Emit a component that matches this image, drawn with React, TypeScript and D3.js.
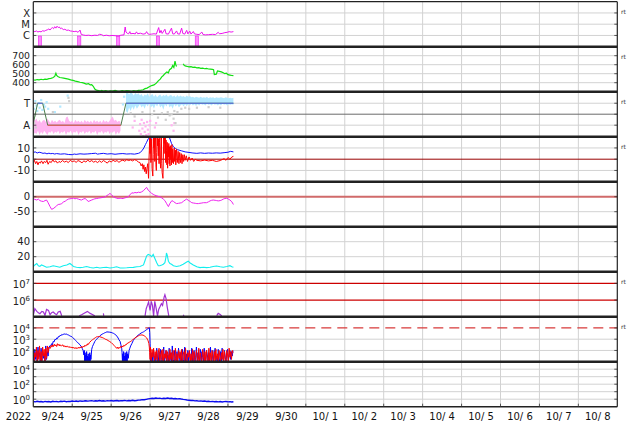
import React from "react";
import * as d3 from "d3";

type Pt = [number, number | null];
type Band = [number, number, number];

// ---------------- axis text ----------------
const yearLabel = "2022";
const dayLabels = ["9/24", "9/25", "9/26", "9/27", "9/28", "9/29", "9/30", "10/ 1", "10/ 2", "10/ 3", "10/ 4", "10/ 5", "10/ 6", "10/ 7", "10/ 8"];
const xrayTicks: [number, string][] = [[-4, "X"], [-5, "M"], [-6, "C"]];
const speedTicks = [700, 600, 500, 400];
const sectorTicks: [number, string][] = [[1, "T"], [-1, "A"]];
const imfTicks = [10, 0, -10];
const dstTicks = [0, -50];
const densTicks = [40, 20];
const elecTicks = [7, 6];
const protTicks = [4, 3, 2];
const lowTicks = [4, 2, 0];
const lowGrid = [4, 3, 2, 1, 0];
const rtPanels = [0, 1, 2, 3, 6, 7];

// ---------------- data (day offset from 9/24 00UT, value) ----------------
const xray: Pt[] = [[0.00,-5.62],[0.04,-5.66],[0.08,-5.60],[0.12,-5.70],[0.15,-5.64],[0.20,-5.68],[0.24,-5.58],[0.28,-5.62],[0.32,-5.55],[0.36,-5.50],[0.40,-5.42],[0.43,-5.52],[0.46,-5.38],[0.49,-5.30],[0.52,-5.40],[0.55,-5.22],[0.58,-5.35],[0.61,-5.18],[0.64,-5.30],[0.67,-5.25],[0.70,-5.40],[0.73,-5.35],[0.77,-5.48],[0.81,-5.45],[0.86,-5.55],[0.90,-5.52],[0.95,-5.60],[1.00,-5.62],[1.05,-5.66],[1.10,-5.62],[1.15,-5.72],[1.20,-5.52],[1.23,-5.90],[1.28,-5.96],[1.35,-6.0],[1.42,-5.98],[1.50,-6.02],[1.58,-5.98],[1.65,-6.00],[1.70,-5.90],[1.75,-5.92],[1.80,-6.02],[1.88,-5.98],[1.95,-6.03],[2.02,-6.0],[2.10,-6.02],[2.18,-6.05],[2.25,-5.98],[2.33,-5.95],[2.36,-5.25],[2.38,-5.70],[2.42,-5.82],[2.45,-5.85],[2.48,-5.66],[2.50,-5.85],[2.56,-5.82],[2.62,-5.86],[2.65,-5.68],[2.68,-5.85],[2.75,-5.80],[2.82,-5.88],[2.88,-5.84],[2.91,-5.66],[2.94,-5.85],[2.98,-5.90],[3.04,-5.88],[3.10,-5.85],[3.16,-5.88],[3.22,-5.30],[3.25,-5.78],[3.28,-5.55],[3.31,-5.82],[3.38,-5.45],[3.41,-5.85],[3.47,-5.88],[3.55,-5.35],[3.58,-5.85],[3.62,-5.88],[3.68,-5.60],[3.71,-5.86],[3.76,-5.88],[3.81,-5.35],[3.84,-5.82],[3.89,-5.88],[3.94,-5.55],[3.97,-5.86],[4.02,-5.62],[4.05,-5.88],[4.11,-5.65],[4.14,-5.86],[4.20,-5.90],[4.26,-5.92],[4.33,-5.70],[4.36,-5.92],[4.42,-5.95],[4.50,-5.93],[4.60,-5.90],[4.68,-5.92],[4.75,-5.72],[4.78,-5.85],[4.85,-5.82],[4.92,-5.75],[4.98,-5.72],[5.03,-5.66],[5.08,-5.70],[5.14,-5.66]];
const xrayDips = [0.17, 1.18, 2.18, 3.2, 4.2];

const speed: Pt[] = [[0,430],[0.05,428],[0.1,435],[0.15,432],[0.2,438],[0.25,433],[0.3,440],[0.35,438],[0.4,445],[0.45,448],[0.5,455],[0.55,470],[0.58,505],[0.6,480],[0.63,470],[0.68,458],[0.72,455],[0.78,450],[0.84,445],[0.9,440],[0.96,432],[1.02,425],[1.08,418],[1.14,412],[1.2,405],[1.26,400],[1.3,395],[1.36,385],[1.42,390],[1.46,375],[1.5,378],[1.54,360],[1.58,330],[1.62,318],[1.68,312],[1.72,308],[1.76,315],[1.8,306],[1.86,312],[1.92,305],[1.98,310],[2.04,306],[2.1,314],[2.16,308],[2.22,304],[2.28,311],[2.34,306],[2.4,313],[2.46,309],[2.52,305],[2.58,312],[2.64,308],[2.7,314],[2.76,316],[2.82,322],[2.87,334],[2.92,340],[2.98,355],[3.04,368],[3.1,375],[3.16,395],[3.21,420],[3.26,440],[3.3,465],[3.34,480],[3.38,500],[3.43,520],[3.47,510],[3.5,545],[3.55,560],[3.58,590],[3.61,570],[3.64,640],[3.66,600],[3.68,580],[3.7,null],[3.84,null],[3.85,610],[3.88,590],[3.92,585],[3.96,580],[4.0,575],[4.05,578],[4.1,570],[4.15,572],[4.2,565],[4.25,568],[4.3,560],[4.35,562],[4.4,555],[4.45,558],[4.5,552],[4.55,550],[4.6,548],[4.63,545],[4.65,490],[4.7,495],[4.73,530],[4.78,525],[4.83,520],[4.88,510],[4.92,500],[4.96,505],[5.0,490],[5.05,485],[5.1,480],[5.14,478]];

const sector: Pt[] = [[0,-0.85],[0.11,1],[0.24,1],[0.37,-1],[2.25,-1],[2.38,1],[5.14,1]];
const sectorAway: Pt[] = [[0.37,-1],[2.25,-1]];
const sectorToward: Pt[] = [[0.11,1],[0.24,1],[2.38,1],[5.14,1]];
const bandToward: Band[] = [[2.38,0.3,1.9],[2.42,0.1,2.0],[2.46,0.6,1.8],[2.5,0.3,2.0],[2.54,0.7,1.9],[2.58,0.4,1.7],[2.62,0.8,1.95],[2.66,0.5,1.8],[2.7,0.7,1.9],[2.74,0.9,1.7],[2.78,0.6,1.85],[2.82,0.8,1.6],[2.86,0.5,1.8],[2.9,0.9,1.7],[2.94,0.7,1.9],[2.98,1.0,1.6],[3.02,0.6,1.75],[3.06,0.8,1.85],[3.1,0.5,1.6],[3.14,0.9,1.8],[3.18,0.7,1.55],[3.22,1.0,1.7],[3.26,0.6,1.8],[3.3,0.8,1.6],[3.34,0.4,1.75],[3.38,0.9,1.65],[3.42,0.7,1.8],[3.46,1.0,1.6],[3.5,0.6,1.7],[3.54,0.8,1.75],[3.58,0.5,1.6],[3.62,0.9,1.7],[3.66,0.7,1.55],[3.7,0.9,1.75],[3.74,0.6,1.6],[3.78,0.8,1.7],[3.82,0.9,1.6],[3.86,0.7,1.65],[3.9,0.9,1.55],[3.94,0.75,1.7],[3.98,0.9,1.6],[4.02,0.8,1.65],[4.06,0.95,1.55],[4.1,0.8,1.6],[4.14,0.9,1.5],[4.18,0.75,1.6],[4.22,0.9,1.55],[4.26,0.8,1.5],[4.3,0.95,1.6],[4.34,0.85,1.5],[4.38,0.9,1.55],[4.42,0.8,1.5],[4.46,0.95,1.6],[4.5,0.85,1.45],[4.54,0.9,1.55],[4.58,0.8,1.5],[4.62,0.95,1.55],[4.66,0.85,1.45],[4.7,0.9,1.55],[4.74,0.8,1.5],[4.78,0.9,1.5],[4.82,0.8,1.55],[4.86,0.95,1.5],[4.9,0.85,1.45],[4.94,0.9,1.55],[4.98,0.8,1.5],[5.02,0.9,1.45],[5.06,0.85,1.5],[5.1,0.9,1.45],[5.14,0.85,1.5]];
const bandAway: Band[] = [[0.00,-1.9,-0.3],[0.04,-1.7,-0.6],[0.08,-1.8,-0.4],[0.12,-1.5,-0.7],[0.16,-1.9,-0.5],[0.2,-1.6,-0.8],[0.24,-1.8,-0.6],[0.28,-1.5,-0.5],[0.32,-1.7,-0.7],[0.36,-1.9,-0.4],[0.4,-1.6,-0.6],[0.44,-1.7,-0.8],[0.48,-1.5,-0.5],[0.52,-1.8,-0.7],[0.56,-1.6,-0.6],[0.6,-1.7,-0.75],[0.64,-1.5,-0.6],[0.68,-1.8,-0.5],[0.72,-1.6,-0.7],[0.76,-1.7,-0.6],[0.8,-1.5,-0.8],[0.84,-1.9,-0.3],[0.88,-1.6,-0.2],[0.92,-1.7,-0.6],[0.96,-1.5,-0.7],[1.0,-1.8,-0.6],[1.04,-1.6,-0.8],[1.08,-1.7,-0.5],[1.12,-1.5,-0.7],[1.16,-1.9,-0.6],[1.2,-1.6,-0.75],[1.24,-1.7,-0.6],[1.28,-1.5,-0.8],[1.32,-1.8,-0.5],[1.36,-1.6,-0.7],[1.4,-1.7,-0.6],[1.44,-1.5,-0.75],[1.48,-1.8,-0.6],[1.52,-1.6,-0.8],[1.56,-1.7,-0.5],[1.6,-1.5,-0.7],[1.64,-1.9,-0.6],[1.68,-1.6,-0.75],[1.72,-1.7,-0.6],[1.76,-1.5,-0.8],[1.8,-1.8,-0.5],[1.84,-1.6,-0.7],[1.88,-1.7,-0.6],[1.92,-1.5,-0.75],[1.96,-1.8,-0.6],[2.0,-1.6,-0.4],[2.04,-1.7,-0.2],[2.08,-1.5,-0.6],[2.12,-1.9,-0.5],[2.16,-1.6,-0.7],[2.2,-1.8,-0.6],[2.24,-1.5,-0.7]];
const towardDots: Pt[] = [[0.02,0.5],[0.05,1.2],[0.08,0.8],[0.1,0.3],[0.13,1.0],[0.16,0.6],[0.2,1.3],[0.23,0.4],[0.27,0.9],[0.3,0.7],[0.34,1.1],[0.38,0.5],[0.55,0.2],[0.69,0.7],[0.88,1.7],[2.3,0.9],[2.33,1.6]];
const awayDots: Pt[] = [[2.55,-1.2],[2.6,-0.6],[2.72,-1.5],[2.74,-0.9],[2.76,-1.8],[2.78,-0.5],[2.8,-1.3],[2.82,-2.0],[2.84,-0.8],[2.86,-1.6],[2.88,-1.1],[2.9,-1.9],[2.92,-0.7],[2.94,-1.4],[2.96,-1.8],[2.98,-1.0],[3.0,-0.6],[3.12,-1.2],[3.15,-0.8],[3.55,-1.0],[3.6,-1.5],[3.62,-0.8]];
const grayDots: Pt[] = [[0.0,-0.3],[0.02,-0.8],[0.04,-0.1],[0.06,-1.2],[0.5,0.2],[0.9,1.5],[0.92,1.2],[2.5,0.1],[2.6,-0.2],[2.8,0.2],[3.05,0.0],[3.1,0.3],[3.2,-0.3],[3.3,0.1],[3.4,-0.5],[3.45,0.2],[3.5,-0.1],[3.55,0.0],[3.6,-0.4],[3.62,0.3],[3.65,-0.8],[3.7,0.2],[3.8,0.5],[3.9,0.6],[4.0,0.5],[4.2,0.6],[4.5,0.65],[4.8,0.6]];

const bt: Pt[] = [[0,6],[0.05,6.5],[0.1,5.5],[0.15,6.2],[0.2,5.8],[0.25,5.2],[0.3,5.5],[0.35,4.8],[0.4,5.3],[0.45,4.9],[0.5,5.1],[0.55,4.6],[0.6,5.0],[0.7,4.5],[0.8,4.8],[0.9,4.2],[1.0,4.0],[1.05,4.6],[1.1,4.3],[1.2,4.8],[1.3,4.5],[1.4,4.7],[1.5,5.0],[1.6,5.3],[1.65,4.5],[1.7,4.8],[1.8,5.2],[1.9,4.6],[2.0,4.9],[2.1,4.4],[2.2,4.8],[2.3,5.0],[2.4,4.6],[2.5,4.8],[2.6,4.5],[2.7,5.2],[2.75,6],[2.8,8],[2.84,10],[2.88,13],[2.91,15],[2.95,18],[3.0,19.5],[3.05,18.5],[3.1,20.5],[3.2,21],[3.3,20.5],[3.4,21],[3.5,19],[3.55,14],[3.6,11],[3.65,9.5],[3.7,8.5],[3.8,7.5],[3.9,6.5],[4.0,6],[4.1,5.5],[4.2,5.2],[4.3,5.6],[4.4,5.2],[4.5,5.5],[4.6,5.3],[4.7,5.6],[4.8,5.4],[4.9,5.8],[5.0,6.2],[5.07,7],[5.14,6.5]];
const bz: Pt[] = [[0,-3],[0.03,-1],[0.06,-4],[0.09,-2],[0.12,-5],[0.15,-2.5],[0.18,-3.5],[0.21,-1.5],[0.25,-4],[0.28,-2],[0.32,-3],[0.35,-1],[0.38,-4.5],[0.42,-2],[0.46,-3],[0.5,-0.5],[0.54,-2.5],[0.58,-1.5],[0.62,-3.5],[0.66,-2],[0.7,-2.8],[0.75,-1.2],[0.8,-2.5],[0.85,-1.8],[0.9,-3],[0.95,-1],[1.0,-2.2],[1.05,-1.5],[1.1,-2.8],[1.15,-1.2],[1.2,-2],[1.25,-3.2],[1.3,-1.5],[1.35,-2.5],[1.4,-0.8],[1.45,-2.2],[1.5,-1.2],[1.55,-2.6],[1.6,-1.8],[1.65,-3],[1.7,-1.5],[1.75,-2.8],[1.8,-1.2],[1.85,-2.2],[1.9,-3.5],[1.95,-1.5],[2.0,-2.5],[2.05,-1],[2.1,-2],[2.15,-1.2],[2.2,-2.8],[2.25,-1.5],[2.3,-0.8],[2.35,-1.8],[2.4,-0.5],[2.45,-1.2],[2.5,-0.6],[2.55,-1.5],[2.6,-0.4],[2.65,-1.1],[2.7,-2.5],[2.74,-3],[2.77,-6],[2.8,-4],[2.82,-9],[2.84,-5],[2.86,-11],[2.88,-7],[2.9,-13],[2.92,-8],[2.94,-4],[2.96,-17],[2.97,-2],[2.98,8],[2.99,20],[3.0,5],[3.01,20],[3.02,-3],[3.04,18],[3.05,-8],[3.07,-15],[3.08,4],[3.09,20],[3.1,10],[3.11,20],[3.12,-2],[3.13,16],[3.14,20],[3.15,-5],[3.16,-10],[3.17,6],[3.18,20],[3.19,12],[3.2,20],[3.21,3],[3.22,18],[3.23,-4],[3.24,15],[3.25,20],[3.26,-2],[3.27,-8],[3.28,8],[3.29,20],[3.3,-4],[3.31,-12],[3.33,-17],[3.34,0],[3.35,20],[3.36,14],[3.37,20],[3.38,5],[3.39,20],[3.4,-3],[3.41,17],[3.42,8],[3.43,-5],[3.44,15],[3.45,-8],[3.46,12],[3.47,2],[3.48,14],[3.49,-4],[3.5,11],[3.51,-6],[3.52,12],[3.53,0],[3.54,10],[3.55,-5],[3.56,13],[3.57,-3],[3.58,9],[3.6,-4],[3.62,10],[3.63,-2],[3.65,8],[3.66,-5],[3.68,9],[3.7,-3],[3.72,7],[3.74,-4],[3.76,6],[3.78,-3],[3.8,5],[3.82,-4],[3.84,4],[3.86,-2],[3.88,4],[3.9,-1],[3.93,3],[3.96,-2],[4.0,2],[4.04,-1],[4.08,1],[4.12,-2],[4.16,0],[4.2,-1],[4.3,-1.5],[4.4,-0.8],[4.5,-1.5],[4.6,-1],[4.7,-2],[4.8,-1.2],[4.9,0.5],[4.95,-1],[5.0,1.5],[5.05,0],[5.1,2],[5.14,2.5]];

const dst: Pt[] = [[0,-6],[0.04,-9],[0.09,-11],[0.13,-8],[0.17,-13],[0.21,-15],[0.26,-16],[0.3,-13],[0.34,-11],[0.38,-20],[0.43,-33],[0.47,-42],[0.51,-40],[0.56,-35],[0.6,-30],[0.64,-26],[0.69,-25],[0.73,-23],[0.77,-18],[0.82,-15],[0.86,-11],[0.9,-8],[0.94,-7],[0.99,-6],[1.03,-5],[1.07,-7],[1.11,-6],[1.16,-8],[1.2,-10],[1.24,-11],[1.28,-8],[1.33,-6],[1.37,-10],[1.41,-16],[1.45,-14],[1.5,-11],[1.54,-9],[1.58,-7],[1.63,-6],[1.67,-5],[1.71,-4],[1.76,-3],[1.8,-2],[1.84,-1],[1.88,3],[1.93,7],[1.97,11],[2.01,6],[2.06,0],[2.1,-3],[2.14,-5],[2.18,-6],[2.23,-5],[2.27,-6],[2.31,-6],[2.35,-4],[2.4,-2],[2.44,0],[2.48,6],[2.53,13],[2.57,12],[2.61,14],[2.66,13],[2.7,15],[2.74,14],[2.78,16],[2.83,20],[2.87,26],[2.91,31],[2.95,22],[3.0,16],[3.04,11],[3.08,8],[3.12,5],[3.17,3],[3.21,1],[3.25,0],[3.3,-4],[3.34,-8],[3.38,-13],[3.42,-22],[3.47,-33],[3.51,-22],[3.56,-13],[3.6,-16],[3.64,-20],[3.68,-23],[3.73,-22],[3.77,-21],[3.81,-20],[3.86,-15],[3.9,-11],[3.94,-8],[3.98,-12],[4.03,-16],[4.07,-20],[4.11,-21],[4.16,-22],[4.2,-23],[4.24,-23],[4.28,-22],[4.33,-21],[4.37,-20],[4.41,-20],[4.45,-20],[4.5,-17],[4.54,-14],[4.58,-12],[4.62,-11],[4.67,-12],[4.71,-13],[4.75,-14],[4.8,-13],[4.84,-11],[4.88,-8],[4.92,-6],[4.97,-5],[5.01,-8],[5.05,-11],[5.1,-17],[5.14,-26]];

const density: Pt[] = [[0,6.7],[0.04,9],[0.09,11],[0.13,8],[0.17,7],[0.21,9],[0.26,8],[0.34,6],[0.43,6.5],[0.51,8],[0.6,7],[0.68,6],[0.77,8],[0.86,9],[0.94,11],[0.99,9],[1.03,7],[1.11,6],[1.2,5.5],[1.28,6],[1.37,7],[1.46,5.5],[1.54,5],[1.63,6],[1.71,5],[1.8,5.5],[1.88,6],[1.97,5],[2.06,5.5],[2.14,6.5],[2.23,5],[2.31,5],[2.4,5.2],[2.48,5.5],[2.57,5.8],[2.66,6.5],[2.74,7],[2.83,9],[2.87,15],[2.91,21],[2.95,23],[3.0,22],[3.04,20],[3.08,23],[3.12,18],[3.17,12],[3.21,8],[3.25,8],[3.3,9],[3.34,10],[3.38,12],[3.41,20],[3.42,25],[3.44,22],[3.47,14],[3.51,11],[3.55,10],[3.6,8],[3.68,7],[3.77,8],[3.85,10],[3.94,13],[3.98,14],[4.02,12],[4.11,9],[4.2,6.5],[4.28,5.5],[4.37,6],[4.45,5.5],[4.54,6],[4.62,7],[4.71,7.5],[4.8,6.5],[4.88,6],[4.97,7],[5.05,8],[5.1,6.5],[5.14,6]];

const electron: Pt[] = [[0,5.08],[0.04,5.48],[0.09,5.32],[0.13,5.24],[0.17,5.18],[0.22,5.32],[0.26,5.28],[0.3,5.08],[0.34,5.44],[0.39,5.38],[0.43,5.12],[0.47,5.24],[0.51,5.28],[0.56,5.18],[0.6,5.12],[0.64,5.28],[0.69,5.32],[0.73,5.06],[0.75,null],[1.16,null],[1.18,5.06],[1.24,5.12],[1.33,5.24],[1.39,5.32],[1.46,5.2],[1.53,5.12],[1.58,5.05],[1.6,null],[1.78,null],[1.8,5.2],[1.81,5.05],[1.83,null],[2.85,null],[2.87,5.05],[2.9,5.48],[2.93,5.68],[2.96,5.88],[3.0,5.38],[3.03,5.92],[3.06,5.68],[3.09,5.05],[3.12,5.92],[3.15,5.58],[3.19,5.05],[3.22,5.44],[3.25,5.58],[3.29,5.78],[3.32,5.68],[3.36,6.18],[3.38,6.32],[3.41,6.08],[3.44,5.58],[3.48,5.05],[3.5,null],[3.83,null],[3.85,5.12],[3.87,5.04],[3.89,null],[4.69,null],[4.71,5.06],[4.75,5.2],[4.8,5.14],[4.84,5.04]];

// proton / electron channel (log10) - noisy parts are regular samples
const blueN0 = [1.6,1.0,2.1,1.2,1.9,1.0,2.3,1.4,1.8,1.0,2.2,1.1,2.0,1.3,1.7,1.0,2.4,1.2,1.9,1.5,2.2,2.4];
const redN0 = [2.2,1.0,1.8,1.4,2.3,1.0,2.0,1.2,2.4,1.1,1.9,1.0,2.3,1.5,2.1,1.0,2.2,1.3,2.4,1.8,2.3,2.2];
const blueN1 = [1.0,1.2,1.8,1.0,2.0,1.1,1.5,1.0,2.2,1.3,1.0,1.9,1.0,2.1,1.2,1.0,1.7,2.3,1.0,1.4,
  2.0,1.0,1.6,1.0,2.2,1.1,1.8,1.0,2.4,1.2,1.0,2.0,1.3,1.0,1.9,1.0,2.2,1.5,1.0,1.8,
  1.0,2.1,1.2,1.0,2.3,1.0,1.7,1.1,2.0,1.0,1.9,1.3,1.0,2.2,1.0,1.6,2.0,1.0,1.4,2.3,
  1.0,1.8,1.2,1.0,2.1,1.0,1.9,1.4,1.0,2.2,1.1,1.0,2.0,1.6,1.0,1.8,1.0,2.3,1.2,1.0,
  2.0,1.0,1.7,2.2,1.0,1.5,1.0,2.1,1.3,1.0,1.9,1.0,2.2,1.2,1.0,2.0,1.4,1.0,1.8,2.1,
  1.0,1.6,2.0,1.2,1.9,1.5,2.0];
const redN1 = [2.3,1.0,2.1,1.4,2.2,1.0,1.9,1.2,2.0,1.0,1.8,2.2,1.0,1.6,2.0,1.1,2.1,1.0,1.7,1.3,
  2.0,1.0,1.9,1.5,1.0,2.1,1.2,1.8,1.0,2.0,1.4,1.0,2.2,1.1,1.7,1.0,2.0,1.3,1.9,1.0,
  2.1,1.0,1.6,1.9,1.0,2.2,1.2,1.0,1.8,1.4,2.0,1.0,1.7,1.1,2.1,1.0,1.9,1.3,1.0,2.0,
  1.5,1.0,2.2,1.0,1.8,1.2,1.0,2.1,1.6,1.0,1.9,1.0,2.0,1.3,1.0,2.2,1.1,1.8,1.0,2.0,
  1.4,1.0,1.9,1.0,2.1,1.2,1.7,1.0,2.0,1.5,1.0,1.8,1.2,2.1,1.0,1.9,1.3,1.0,2.0,1.6,
  1.0,2.2,1.4,1.9,1.2,2.0,1.8];
const blueArc: Pt[] = [[0.45,2.4],[0.47,2.6],[0.49,2.5],[0.51,2.8],[0.53,2.75],[0.56,3.0],[0.58,2.95],[0.6,3.1],[0.62,3.05],[0.64,3.22],[0.66,3.2],[0.69,3.35],[0.71,3.3],[0.73,3.42],[0.75,3.38],[0.77,3.45],[0.79,3.43],[0.81,3.48],[0.83,3.44],[0.86,3.45],[0.88,3.4],[0.9,3.38],[0.92,3.33],[0.94,3.3],[0.96,3.26],[0.99,3.22],[1.01,3.15],[1.03,3.1],[1.05,3.02],[1.07,2.95],[1.09,2.88],[1.11,2.8],[1.13,2.72],[1.16,2.65],[1.18,2.55],[1.2,2.5],[1.22,2.4],[1.24,2.3],[1.26,2.15],[1.28,2.0],[1.3,1.6],[1.31,2.0],[1.32,1.0],[1.33,1.8],[1.34,1.0],[1.35,1.6],[1.36,1.0],[1.37,1.9],[1.38,1.0],[1.39,1.5],[1.4,1.0],[1.41,1.7],[1.42,1.0],[1.43,1.4],[1.44,1.0],[1.45,1.8],[1.46,1.0],[1.47,1.6],[1.48,1.2],[1.5,2.1],[1.52,2.35],[1.54,2.5],[1.56,2.65],[1.58,2.8],[1.6,2.9],[1.63,3.0],[1.65,3.08],[1.67,3.15],[1.69,3.22],[1.71,3.3],[1.74,3.38],[1.77,3.45],[1.8,3.5],[1.83,3.56],[1.86,3.6],[1.89,3.65],[1.92,3.64],[1.95,3.63],[1.97,3.62],[2.0,3.6],[2.03,3.56],[2.06,3.52],[2.09,3.45],[2.12,3.38],[2.14,3.3],[2.16,3.2],[2.18,3.1],[2.2,2.95],[2.23,2.8],[2.25,2.5],[2.27,2.2],[2.28,1.8],[2.29,1.0],[2.3,1.7],[2.31,1.0],[2.32,1.9],[2.33,1.0],[2.34,1.5],[2.35,1.0],[2.36,1.8],[2.37,1.0],[2.38,1.6],[2.39,1.0],[2.4,1.9],[2.41,1.0],[2.42,1.7],[2.44,1.3],[2.46,2.0],[2.48,2.2],[2.5,2.4],[2.53,2.6],[2.55,2.75],[2.57,2.9],[2.6,3.05],[2.63,3.15],[2.66,3.25],[2.69,3.35],[2.72,3.42],[2.74,3.48],[2.77,3.55],[2.8,3.6],[2.83,3.65],[2.86,3.72],[2.89,3.8],[2.91,3.85],[2.93,3.9],[2.95,3.95],[2.97,4.0],[2.98,4.02],[2.99,3.6],[3.0,2.6],[3.005,1.8]];
const redArc: Pt[] = [[0.44,2.2],[0.46,2.45],[0.48,2.3],[0.5,2.5],[0.52,2.35],[0.54,2.55],[0.56,2.4],[0.58,2.5],[0.6,2.35],[0.62,2.6],[0.64,2.45],[0.66,2.55],[0.68,2.4],[0.7,2.5],[0.72,2.38],[0.74,2.45],[0.76,2.5],[0.78,2.35],[0.8,2.42],[0.82,2.3],[0.84,2.4],[0.86,2.32],[0.88,2.38],[0.9,2.28],[0.92,2.35],[0.94,2.25],[0.96,2.32],[0.98,2.22],[1.0,2.3],[1.02,2.2],[1.04,2.28],[1.06,2.18],[1.08,2.25],[1.1,2.15],[1.12,2.25],[1.14,2.18],[1.16,2.28],[1.18,2.2],[1.2,2.3],[1.22,2.22],[1.24,2.35],[1.26,2.25],[1.28,2.38],[1.3,2.3],[1.32,2.45],[1.34,2.38],[1.36,2.5],[1.38,2.45],[1.4,2.6],[1.42,2.55],[1.44,2.7],[1.46,2.75],[1.48,2.85],[1.5,2.9],[1.52,2.95],[1.54,3.0],[1.56,3.05],[1.58,3.1],[1.6,3.15],[1.62,3.2],[1.65,3.22],[1.68,3.24],[1.71,3.22],[1.74,3.18],[1.77,3.15],[1.8,3.1],[1.83,3.05],[1.86,2.98],[1.89,2.95],[1.92,2.88],[1.95,2.82],[1.97,2.78],[2.0,2.7],[2.02,2.62],[2.04,2.58],[2.06,2.52],[2.08,2.42],[2.1,2.35],[2.12,2.25],[2.14,2.2],[2.16,2.3],[2.18,2.15],[2.2,2.28],[2.22,2.2],[2.24,2.35],[2.26,2.25],[2.28,2.4],[2.3,2.3],[2.32,2.45],[2.34,2.4],[2.36,2.5],[2.38,2.48],[2.4,2.6],[2.43,2.65],[2.46,2.72],[2.49,2.78],[2.52,2.85],[2.55,2.95],[2.58,3.02],[2.61,3.1],[2.64,3.18],[2.67,3.24],[2.7,3.3],[2.73,3.35],[2.76,3.37],[2.79,3.38],[2.82,3.36],[2.85,3.3],[2.88,3.22],[2.91,3.12],[2.93,3.0],[2.95,2.85],[2.97,2.6],[2.98,2.3],[2.99,1.8],[3.0,1.2]];

const lowFlux = [-0.30,-0.36,-0.28,-0.34,-0.31,-0.38,-0.29,-0.33,-0.30,-0.36,
  -0.27,-0.32,-0.30,-0.35,-0.28,-0.31,-0.26,-0.33,-0.29,-0.30,
  -0.24,-0.29,-0.25,-0.30,-0.22,-0.27,-0.24,-0.20,-0.26,-0.22,
  -0.19,-0.25,-0.21,-0.24,-0.18,-0.23,-0.20,-0.25,-0.19,-0.22,
  -0.18,-0.24,-0.20,-0.17,-0.23,-0.19,-0.21,-0.16,-0.22,-0.18,
  -0.20,-0.15,-0.21,-0.18,-0.12,-0.10,-0.06,-0.08,-0.02,0.04,
  0.08,0.12,0.09,0.15,0.11,0.14,0.08,0.13,0.10,0.15,
  0.09,0.12,0.06,0.10,0.04,0.08,0.02,-0.02,-0.05,-0.10,
  -0.14,-0.18,-0.16,-0.22,-0.20,-0.26,-0.23,-0.28,-0.25,-0.30,
  -0.27,-0.32,-0.29,-0.34,-0.30,-0.36,-0.31,-0.38,-0.33,-0.30,
  -0.35,-0.32,-0.37];

// ---------------- layout ----------------
const W = 634, H = 424;
const PL = 33.3, PR = 617.3, TOP = 1.7, PH = 45, NP = 9, DAYS = 15;
const FONT = "DejaVu Sans, Verdana, sans-serif";

const seq = (start: number, step: number, vals: number[]): Pt[] => vals.map((v, k) => [start + k * step, v]);

export default function App() {
  const x = d3.scaleLinear().domain([0, DAYS]).range([PL, PR]);
  const top = (i: number) => TOP + i * PH;
  const ys = (i: number, dom: [number, number]) => d3.scaleLinear().domain(dom).range([top(i) + PH, top(i)]);
  const y0 = ys(0, [-7, -3]);
  const y1 = ys(1, [300, 800]);
  const y2 = ys(2, [-2.05, 2.05]);
  const y3 = ys(3, [-20, 20]);
  const y4 = ys(4, [-100, 50]);
  const y5 = ys(5, [0, 60]);
  const y6 = ys(6, [5, 7.7]);
  const y7 = ys(7, [1, 5]);
  const y8 = ys(8, [-1, 5]);
  const line = (y: d3.ScaleLinear<number, number>) =>
    d3.line<Pt>().defined((d) => d[1] !== null).x((d) => x(d[0])).y((d) => y(d[1] as number));
  const area = (y: d3.ScaleLinear<number, number>) =>
    d3.area<Band>().x((d) => x(d[0])).y0((d) => y(d[1])).y1((d) => y(d[2]));

  const blue8: Pt[] = [...seq(0, 0.02, blueN0), ...blueArc, ...seq(3.01, 0.02, blueN1)];
  const red8: Pt[] = [...seq(0, 0.02, redN0), ...redArc, ...seq(3.01, 0.02, redN1)];
  const low9: Pt[] = [...seq(0, 0.05, lowFlux), [5.14, -0.34]];

  const days = d3.range(1, DAYS);
  const grid = "#d2d2d2";
  const lab = (yy: number, t: React.ReactNode, key: string | number, fs = 10) => (
    <text key={key} x={30} y={yy} dy="0.36em" textAnchor="end" fontSize={fs} fill="#222">{t}</text>
  );
  const pow = (e: number) => (<>10<tspan dy={-4.5} fontSize={7}>{e}</tspan></>);
  const hgrid = (y: (v: number) => number, vals: number[], key: string) =>
    vals.map((v) => <line key={key + v} x1={PL} x2={PR} y1={y(v)} y2={y(v)} stroke={grid} strokeWidth={1} />);
  const edgeTicks = (y: (v: number) => number, vals: number[], key: string) =>
    vals.map((v) => (
      <g key={key + "t" + v}>
        <line x1={PL} x2={PL + 3} y1={y(v)} y2={y(v)} stroke="#333" strokeWidth={0.8} />
        <line x1={PR - 3} x2={PR} y1={y(v)} y2={y(v)} stroke="#333" strokeWidth={0.8} />
      </g>
    ));
  const dot = (d: Pt, y: (v: number) => number, fill: string, k: string) => (
    <rect key={k} x={x(d[0]) - 1} y={y(d[1] as number) - 1} width={2.2} height={2.2} fill={fill} />
  );

  return (
    <svg width={W} height={H} style={{ position: "fixed", left: 0, top: 0, background: "#fff" }} fontFamily={FONT}>
      <defs>
        {d3.range(NP).map((i) => (
          <clipPath id={"cp" + i} key={i}>
            <rect x={PL} y={top(i)} width={PR - PL} height={PH} />
          </clipPath>
        ))}
      </defs>
      <rect x={0} y={0} width={W} height={H} fill="#fff" />

      {/* vertical day grid */}
      {days.map((d) => (
        <line key={"v" + d} x1={x(d)} x2={x(d)} y1={TOP} y2={top(NP)} stroke={grid} strokeWidth={1} />
      ))}

      {/* horizontal grids */}
      {hgrid(y0, xrayTicks.map((t) => t[0]), "g0")}
      {hgrid(y1, speedTicks, "g1")}
      {hgrid(y2, sectorTicks.map((t) => t[0]), "g2")}
      <line x1={PL} x2={PR} y1={y2(0)} y2={y2(0)} stroke="#6a6a6a" strokeWidth={1} />
      {hgrid(y3, [10, -10], "g3")}
      {hgrid(y4, [-50], "g4")}
      {hgrid(y5, densTicks, "g5")}
      {hgrid(y7, [3, 2], "g7")}
      {hgrid(y8, lowGrid, "g8")}

      {/* reference lines */}
      <line x1={PL} x2={PR} y1={y3(0)} y2={y3(0)} stroke="#990000" strokeWidth={1} />
      <line x1={PL} x2={PR} y1={y4(0)} y2={y4(0)} stroke="#d06a6a" strokeWidth={2} />
      {elecTicks.map((v) => (
        <line key={"r6" + v} x1={PL} x2={PR} y1={y6(v)} y2={y6(v)} stroke="#cc0000" strokeWidth={1.3} />
      ))}
      <line x1={PL} x2={PR} y1={y7(4)} y2={y7(4)} stroke="#d83a3a" strokeWidth={1.3} strokeDasharray="10,6" />

      {/* panel 0: X-ray */}
      <g clipPath="url(#cp0)">
        {xrayDips.map((d) => (
          <rect key={"dip" + d} x={x(d) - 1.6} y={y0(-6.05)} width={3.2} height={top(1) - y0(-6.05)} fill="#ff88ff" stroke="#ee22ee" strokeWidth={0.6} />
        ))}
        <path d={line(y0)(xray) || ""} fill="none" stroke="#ee11ee" strokeWidth={1} />
      </g>

      {/* panel 1: speed */}
      <g clipPath="url(#cp1)">
        <path d={line(y1)(speed) || ""} fill="none" stroke="#11e011" strokeWidth={1.2} />
      </g>

      {/* panel 2: sector */}
      <g clipPath="url(#cp2)">
        <path d={area(y2)(bandAway) || ""} fill="#ffb4f0" />
        <path d={area(y2)(bandToward) || ""} fill="#b2e8ff" />
        {towardDots.map((d, k) => dot(d, y2, "#b2e8ff", "td" + k))}
        {awayDots.map((d, k) => dot(d, y2, "#ffb4f0", "ad" + k))}
        {grayDots.map((d, k) => dot(d, y2, "#cfcfcf", "gd" + k))}
        <path d={line(y2)(sector) || ""} fill="none" stroke="#4d7d4d" strokeWidth={1} />
        <path d={line(y2)(sectorAway) || ""} fill="none" stroke="#ee5555" strokeWidth={1.1} />
        <path d={line(y2)(sectorToward.slice(0, 2)) || ""} fill="none" stroke="#5a6bee" strokeWidth={1.1} />
        <path d={line(y2)(sectorToward.slice(2)) || ""} fill="none" stroke="#5a6bee" strokeWidth={1.1} />
      </g>

      {/* panel 3: IMF */}
      <g clipPath="url(#cp3)">
        <path d={line(y3)(bt) || ""} fill="none" stroke="#1010ff" strokeWidth={1} />
        <path d={line(y3)(bz) || ""} fill="none" stroke="#ff0000" strokeWidth={1} />
      </g>

      {/* panel 4: Dst */}
      <g clipPath="url(#cp4)">
        <path d={line(y4)(dst) || ""} fill="none" stroke="#ee22ee" strokeWidth={1} />
      </g>

      {/* panel 5 */}
      <g clipPath="url(#cp5)">
        <path d={line(y5)(density) || ""} fill="none" stroke="#11eeee" strokeWidth={1.1} />
      </g>

      {/* panel 6 */}
      <g clipPath="url(#cp6)">
        <path d={line(y6)(electron) || ""} fill="none" stroke="#a032d2" strokeWidth={1.2} />
      </g>

      {/* panel 7 */}
      <g clipPath="url(#cp7)">
        <path d={line(y7)(blue8) || ""} fill="none" stroke="#0000ff" strokeWidth={1} />
        <path d={line(y7)(red8) || ""} fill="none" stroke="#ff0000" strokeWidth={1} />
      </g>

      {/* panel 8 */}
      <g clipPath="url(#cp8)">
        <path d={line(y8)(low9) || ""} fill="none" stroke="#0a0aee" strokeWidth={1.4} />
      </g>

      {/* edge ticks */}
      {edgeTicks(y0, xrayTicks.map((t) => t[0]), "e0")}
      {edgeTicks(y1, speedTicks, "e1")}
      {edgeTicks(y2, [1, 0, -1], "e2")}
      {edgeTicks(y3, imfTicks, "e3")}
      {edgeTicks(y4, dstTicks, "e4")}
      {edgeTicks(y5, densTicks, "e5")}
      {edgeTicks(y6, elecTicks, "e6")}
      {edgeTicks(y7, protTicks, "e7")}
      {edgeTicks(y8, lowGrid, "e8")}

      {/* frame & separators */}
      <line x1={PL} x2={PR} y1={TOP} y2={TOP} stroke="#222" strokeWidth={1.2} />
      {d3.range(1, NP).map((i) => (
        <line key={"s" + i} x1={PL} x2={PR} y1={top(i)} y2={top(i)} stroke="#222" strokeWidth={2.4} />
      ))}
      <line x1={PL} x2={PR} y1={top(NP)} y2={top(NP)} stroke="#222" strokeWidth={1.5} />
      <line x1={PL} x2={PL} y1={TOP} y2={top(NP)} stroke="#222" strokeWidth={1.2} />
      <line x1={PR} x2={PR} y1={TOP} y2={top(NP)} stroke="#222" strokeWidth={1.2} />
      {days.map((d) => (
        <line key={"bt" + d} x1={x(d)} x2={x(d)} y1={top(NP) - 3} y2={top(NP)} stroke="#333" strokeWidth={0.8} />
      ))}

      {/* y labels */}
      {xrayTicks.map(([v, t]) => lab(y0(v), t, "l0" + t))}
      {speedTicks.map((v) => lab(y1(v), v, "l1" + v, 9.3))}
      {sectorTicks.map(([v, t]) => lab(y2(v), t, "l2" + t))}
      {imfTicks.map((v) => lab(y3(v), v < 0 ? "-" + Math.abs(v) : v, "l3" + v))}
      {dstTicks.map((v) => lab(y4(v), v < 0 ? "-" + Math.abs(v) : v, "l4" + v))}
      {densTicks.map((v) => lab(y5(v), v, "l5" + v))}
      {elecTicks.map((v) => lab(y6(v) + 1.5, pow(v), "l6" + v))}
      {protTicks.map((v) => lab(y7(v) + 1.5, pow(v), "l7" + v))}
      {lowTicks.map((v) => lab(y8(v) + 1.5, pow(v), "l8" + v))}

      {/* rt marks */}
      {rtPanels.map((i) => (
        <text key={"rt" + i} x={621} y={top(i) + 12} fontSize={6} fill="#333">rt</text>
      ))}

      {/* x labels */}
      <text x={18.5} y={419.5} textAnchor="middle" fontSize={10} fill="#111">{yearLabel}</text>
      {dayLabels.map((t, k) => (
        <text key={"d" + k} x={x(k + 0.5)} y={419.5} textAnchor="middle" fontSize={10} fill="#111" style={{ whiteSpace: "pre" }}>{t}</text>
      ))}
    </svg>
  );
}
